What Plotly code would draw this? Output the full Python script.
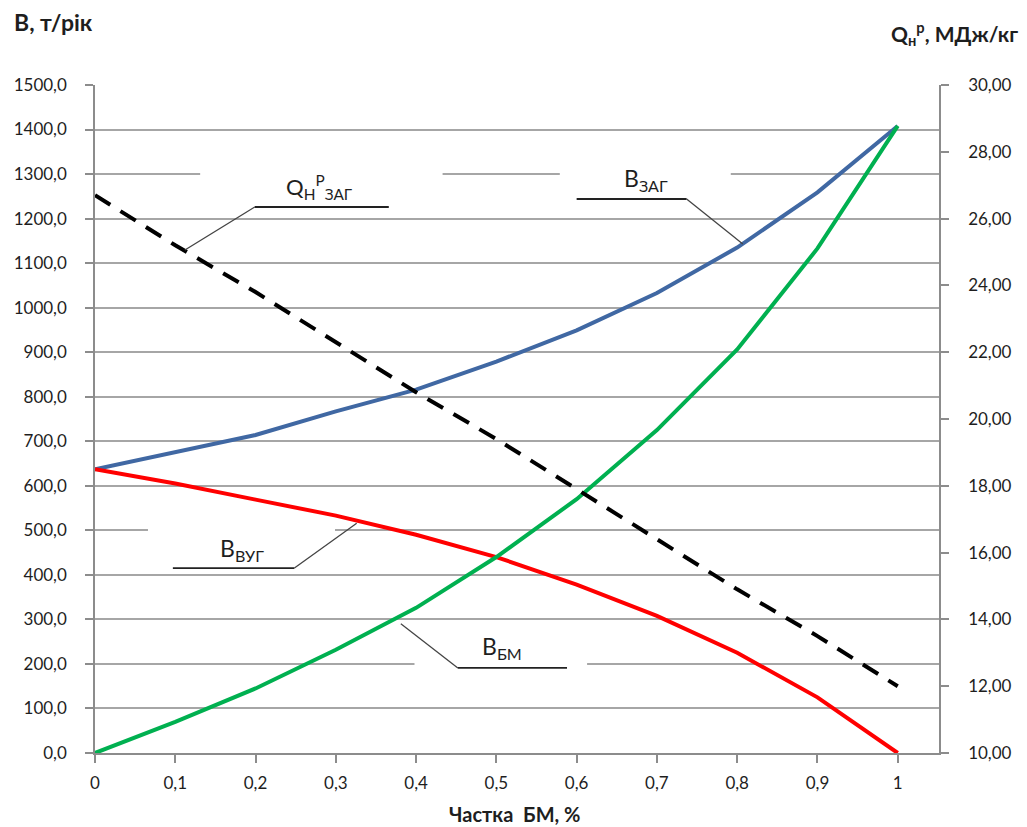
import plotly.graph_objects as go

# ---- data ----
share = [0, 0.1, 0.2, 0.3, 0.4, 0.5, 0.6, 0.7, 0.8, 0.9, 1.0]
share_labels = ["0", "0,1", "0,2", "0,3", "0,4", "0,5", "0,6", "0,7", "0,8", "0,9", "1"]
b_total = [637, 676, 714, 767, 816, 879, 949, 1033, 1135, 1259, 1408]
b_coal = [637, 605, 569, 533, 490, 440, 378, 308, 225, 125, 0]
b_bio = [0, 70, 145, 232, 326, 440, 570, 725, 906, 1133, 1408]
q_mix = [26.7, 25.2, 23.8, 22.3, 20.8, 19.4, 17.9, 16.4, 14.9, 13.5, 12.0]

FONT = "Lato"
TXT = "#1e1e1e"
GRID = "#a6a6a6"
AXIS = "#8c8c8c"
TICK = 17

fig = go.Figure()
fig.add_trace(go.Scatter(x=share, y=b_total, mode="lines", name="B заг",
                         line=dict(color="#4068A3", width=4), showlegend=False))
fig.add_trace(go.Scatter(x=share, y=b_coal, mode="lines", name="B вуг",
                         line=dict(color="#FF0000", width=4), showlegend=False))
fig.add_trace(go.Scatter(x=share, y=b_bio, mode="lines", name="B бм",
                         line=dict(color="#00B050", width=4), showlegend=False))
fig.add_trace(go.Scatter(x=share, y=q_mix, mode="lines", name="Q заг", yaxis="y2",
                         line=dict(color="#000000", width=4, dash="18px,12px"),
                         showlegend=False))

# page body has an 8px margin, so the figure is 8px smaller and offset
fig.update_layout(
    width=1019, height=819,
    margin=dict(l=87, r=88, t=77, b=74),
    paper_bgcolor="white", plot_bgcolor="white",
    separators=", ",
    font=dict(family=FONT, size=TICK, color=TXT),
    xaxis=dict(range=[0, 1.0514], tickvals=share, ticktext=share_labels, automargin=False,
               showgrid=False, zeroline=False, showline=True, linecolor=AXIS, linewidth=1.5,
               ticks="outside", ticklen=8, tickcolor=AXIS, tickwidth=1.5,
               ticklabelstandoff=6, tickfont=dict(size=TICK, color=TXT)),
    yaxis=dict(range=[0, 1500], dtick=100, tickformat=".1f", automargin=False,
               showgrid=True, gridcolor=GRID, gridwidth=1.5, zeroline=False,
               showline=True, linecolor=AXIS, linewidth=1.5,
               ticks="outside", ticklen=8, tickcolor=AXIS, tickwidth=1.5,
               ticklabelstandoff=15, tickfont=dict(size=TICK, color=TXT)),
    yaxis2=dict(range=[10, 30], dtick=2, tickformat=".2f", overlaying="y", side="right",
                automargin=False,
                showgrid=False, zeroline=False, showline=True, linecolor=AXIS, linewidth=1.5,
                ticks="outside", ticklen=8, tickcolor=AXIS, tickwidth=1.5,
                ticklabelstandoff=16, tickfont=dict(size=TICK, color=TXT)),
)

# white boxes behind labels (hide gridlines like Excel text boxes)
boxes = [(0.131, 0.433, 1240, 1335), (0.579, 0.792, 1240, 1335),
         (0.066, 0.299, 445, 545), (0.398, 0.613, 170, 230)]
for x0, x1, y0, y1 in boxes:
    fig.add_shape(type="rect", xref="x", yref="y", x0=x0, x1=x1, y0=y0, y1=y1,
                  fillcolor="white", line=dict(width=0), layer="between")

# leader lines
leaders = [
    [(0.112, 1129.5), (0.199, 1226), (0.366, 1226)],
    [(0.600, 1244), (0.737, 1244), (0.807, 1143)],
    [(0.097, 415), (0.248, 415), (0.326, 516)],
    [(0.381, 290), (0.452, 191), (0.588, 191)],
]
for pts in leaders:
    for (xa, ya), (xb, yb) in zip(pts[:-1], pts[1:]):
        horiz = abs(ya - yb) < 1
        fig.add_shape(type="line", xref="x", yref="y", x0=xa, y0=ya, x1=xb, y1=yb,
                      line=dict(color="#222222" if horiz else "#444444",
                                width=1.8 if horiz else 1.3), layer="above")

labels = [
    (0.280, 1272, "Q<sub>Н</sub><sup>Р</sup><sub>ЗАГ</sub>", 22),
    (0.686, 1287, "В<sub>ЗАГ</sub>", 23),
    (0.183, 458, "В<sub>ВУГ</sub>", 23),
    (0.507, 238, "В<sub>БМ</sub>", 23),
]
for x, y, t, s in labels:
    fig.add_annotation(x=x, y=y, xref="x", yref="y", text=t, showarrow=False,
                       font=dict(family=FONT, size=s, color=TXT))

# axis titles
fig.add_annotation(xref="paper", yref="paper", x=-0.0983, y=1.0943, xanchor="left",
                   yanchor="middle", text="<b>В, т/рік</b>", showarrow=False,
                   font=dict(family=FONT, size=23, color=TXT))
fig.add_annotation(xref="paper", yref="paper", x=1.0956, y=1.0778, xanchor="right",
                   yanchor="middle", text="<b>Q<sub>н</sub><sup>р</sup>, МДж/кг</b>",
                   showarrow=False, font=dict(family=FONT, size=21, color=TXT))
fig.add_annotation(xref="paper", yref="paper", x=0.497, y=-0.092, xanchor="center",
                   yanchor="middle", text="<b>Частка  БМ, %</b>", showarrow=False,
                   font=dict(family=FONT, size=20, color=TXT))

fig.write_html("out.html")
